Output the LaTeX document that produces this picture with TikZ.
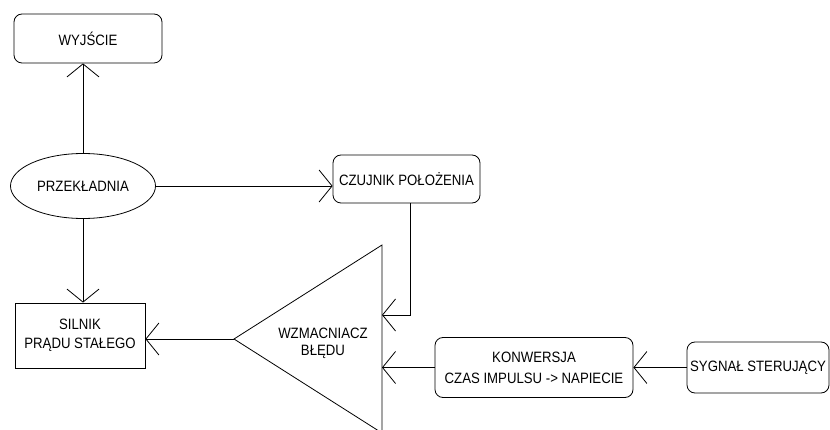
\documentclass[tikz,border=0pt]{standalone}
\usepackage{fontspec}
\setmainfont{Liberation Sans}[FakeStretch=0.88]
\usetikzlibrary{shapes.geometric, arrows.meta, positioning, calc}

\begin{document}
\begin{tikzpicture}[
    x=1pt, y=-1pt, line width=0.8pt,
    block/.style={rectangle, draw, rounded corners=8pt, inner sep=0pt, align=center,
                  font=\fontsize{15}{19}\selectfont},
    plain/.style={rectangle, draw, inner sep=0pt, align=center,
                  font=\fontsize{15}{19}\selectfont},
    gearbox/.style={ellipse, draw, inner sep=0pt, font=\fontsize{15}{19}\selectfont},
    arr/.style={-{Straight Barb[length=13pt, width=32pt]}}
]
\useasboundingbox (0,0) rectangle (830,430);
\clip (0,0) rectangle (830,430);

\node[block, minimum width=148pt, minimum height=49pt] (out) at (88,38.5) {WYJŚCIE};
\node[gearbox, minimum width=145pt, minimum height=65pt] (gear) at (83,186) {PRZEKŁADNIA};
\node[block, minimum width=147pt, minimum height=48pt] (sensor) at (406.5,179) {CZUJNIK POŁOŻENIA};
\node[plain, minimum width=130pt, minimum height=65pt] (motor) at (80,335.5) {SILNIK\\PRĄDU STAŁEGO};
\node[block, minimum width=198pt, minimum height=60pt] (conv) at (534,367.5)
    {KONWERSJA\\[2pt]CZAS IMPULSU -> NAPIECIE};
\node[block, minimum width=142pt, minimum height=51pt] (sig) at (758,367.5) {SYGNAŁ STERUJĄCY};

% wzmacniacz (trojkat)
\draw (234,339) -- (382,245) -- (382,433) -- cycle;
\node[align=center, font=\fontsize{15}{17}\selectfont] (amp) at (323,343) {WZMACNIACZ\\BŁĘDU};
\coordinate (ampout) at (234,339);
\coordinate (ampin1) at (382,315);
\coordinate (ampin2) at (382,367.5);

\draw[arr] (gear) -- (gear |- out.south);
\draw[arr] (gear) -- (gear |- motor.north);
\draw[arr] (gear.east) -- (gear.east -| sensor.west);
\draw[arr] ([xshift=4pt]sensor.south) |- (ampin1);
\draw[arr] (conv.west) -- (ampin2);
\draw[arr] (sig) -- (conv);
\draw[arr] (ampout) -- (ampout -| motor.east);
\end{tikzpicture}
\end{document}
